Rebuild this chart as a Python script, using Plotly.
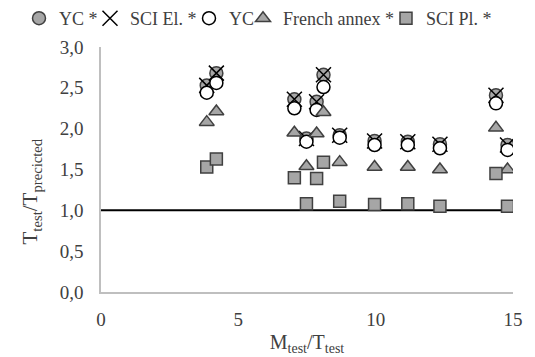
import plotly.graph_objects as go

# Data
x_vals = [3.85, 4.2, 7.04, 7.48, 7.85, 8.1, 8.69, 9.96, 11.17, 12.34, 14.38, 14.8]
yc_star = [2.53, 2.68, 2.36, 1.88, 2.33, 2.66, 1.92, 1.85, 1.84, 1.81, 2.41, 1.80]
sci_el = [2.53, 2.68, 2.36, 1.88, 2.33, 2.66, 1.92, 1.85, 1.84, 1.81, 2.41, 1.80]
yc = [2.44, 2.56, 2.25, 1.84, 2.23, 2.51, 1.89, 1.80, 1.80, 1.76, 2.31, 1.74]
french = [2.08, 2.21, 1.95, 1.54, 1.94, 2.20, 1.59, 1.53, 1.53, 1.50, 2.01, 1.50]
sci_pl = [1.53, 1.63, 1.40, 1.08, 1.39, 1.59, 1.11, 1.07, 1.08, 1.05, 1.45, 1.05]
ref_level = 1.0

font_family = "Liberation Serif"
gray = "#a6a6a6"
edge = "#404040"
W, H = 535, 357

series = [
    ("YC *", yc_star, dict(symbol="circle", size=13, color=gray, line=dict(color=edge, width=1.5))),
    ("SCI El. *", sci_el, dict(symbol="x-thin", size=15, color="black", line=dict(color="black", width=1.5))),
    ("YC", yc, dict(symbol="circle", size=13, color="white", line=dict(color="black", width=1.5))),
    ("French annex *", french, dict(symbol="triangle-up", size=13, color=gray, line=dict(color=edge, width=1.5))),
    ("SCI Pl. *", sci_pl, dict(symbol="square", size=12, color=gray, line=dict(color=edge, width=1.5))),
]
# left pixel of each legend entry box
legend_left_px = [19, 90, 189, 243, 386]

fig = go.Figure()
legends = {}
for i, (name, vals, mk) in enumerate(series):
    lname = "legend" if i == 0 else f"legend{i + 1}"
    fig.add_trace(go.Scatter(x=x_vals, y=vals, mode="markers", name=name,
                             marker=mk, legend=lname))
    legends[lname] = dict(orientation="h", x=legend_left_px[i] / W, xanchor="left",
                          y=1.0, yanchor="top", xref="container", yref="container",
                          font=dict(family=font_family, size=18, color="#404040"),
                          itemwidth=30, bgcolor="rgba(0,0,0,0)")

fig.add_shape(type="line", xref="x", yref="y", x0=0, x1=15, y0=ref_level, y1=ref_level,
              line=dict(color="black", width=2), layer="below")

fig.add_annotation(text="T<sub>test</sub>/T<sub>precicted</sub>", textangle=-90,
                   xref="paper", yref="paper", x=-0.17, y=0.41, xanchor="center",
                   yanchor="middle", showarrow=False,
                   font=dict(family=font_family, size=21, color="#404040"))

fig.update_layout(
    width=W, height=H,
    margin=dict(l=101, r=22, t=47, b=65, autoexpand=False),
    paper_bgcolor="white", plot_bgcolor="white",
    separators=",.",
    font=dict(family=font_family, size=19, color="#404040"),
    showlegend=True,
    xaxis=dict(range=[0, 15], tickvals=[0, 5, 10, 15], showgrid=False, zeroline=False,
               showline=True, linecolor="#bfbfbf", linewidth=1.5,
               ticks="outside", ticklen=9, tickcolor="rgba(0,0,0,0)",
               title=dict(text="M<sub>test</sub>/T<sub>test</sub>", standoff=6,
                          font=dict(size=20))),
    yaxis=dict(range=[0, 3], tickvals=[0, 0.5, 1, 1.5, 2, 2.5, 3], tickformat=".1f",
               showgrid=False, zeroline=False,
               showline=True, linecolor="#bfbfbf", linewidth=1.5,
               ticks="outside", ticklen=12, tickcolor="rgba(0,0,0,0)"),
    **legends,
)

fig.write_html("out.html", config={"displayModeBar": False},
               post_script="document.body.style.margin='0';document.body.style.overflow='hidden';")
